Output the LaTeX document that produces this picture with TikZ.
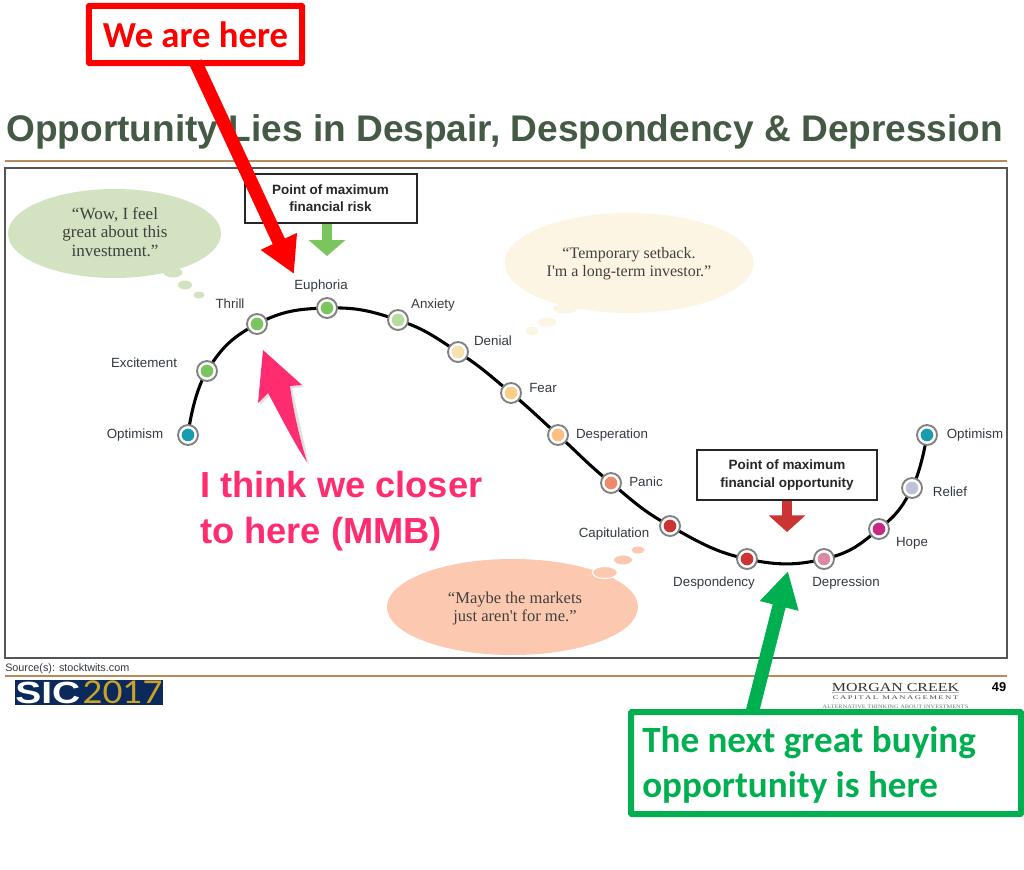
\documentclass[tikz,border=0pt]{standalone}
\usepackage{fontspec}
\setmainfont{Liberation Sans}
\newfontfamily\seriffnt{Liberation Serif}
\newfontfamily\calfnt{Carlito}
\newfontfamily\latofnt{Lato}
\usetikzlibrary{arrows.meta,backgrounds}
\definecolor{titlegreen}{HTML}{445A45}
\definecolor{rulebrown}{HTML}{B98A5A}
\definecolor{framegray}{HTML}{555555}
\definecolor{labelgray}{HTML}{333A40}
\definecolor{calloutgreen}{HTML}{00B050}
\definecolor{callpink}{HTML}{FF2D6F}
\definecolor{bubgreen}{HTML}{D3E3C1}
\definecolor{bubcream}{HTML}{FDF5E3}
\definecolor{bubpeach}{HTML}{FCC9B0}
\definecolor{arrgreen}{HTML}{7AC55E}
\definecolor{arrred}{HTML}{CC3333}
\definecolor{navylogo}{HTML}{0B2A5B}
\definecolor{goldlogo}{HTML}{C9A227}
\definecolor{dotteal}{HTML}{1A9CB0}
\definecolor{dotpale}{HTML}{B7DCA0}
\definecolor{dotcream}{HTML}{F7E2AE}
\definecolor{dotsand}{HTML}{F9CE85}
\definecolor{dotapricot}{HTML}{F9C081}
\definecolor{dotsalmon}{HTML}{F0886C}
\definecolor{dotrose}{HTML}{DC8AA3}
\definecolor{dotmagenta}{HTML}{C72A83}
\definecolor{dotslate}{HTML}{BCC3D6}
\tikzset{
  x=0.75pt,y=-0.75pt,
  ring/.style={circle,draw=black!50,line width=1.4pt,fill=white,minimum size=15pt,inner sep=0pt},
  core/.style={circle,minimum size=9.5pt,inner sep=0pt},
  lab/.style={font=\fontsize{10}{11}\selectfont,text=labelgray,inner sep=0pt},
  quotetxt/.style={font=\seriffnt\fontsize{12}{13.6}\selectfont,text=black!75,align=center,inner sep=0pt},
  boxtxt/.style={draw=black!85,line width=1.5pt,fill=white,align=center,font=\bfseries\fontsize{10.1}{13}\selectfont,text=black!85,inner sep=0pt},
  callbox/.style={line width=4.5pt,fill=white,inner sep=0pt,rounded corners=0.6pt}
}
\newcommand{\stepdot}[3]{\node[ring] (#1) at (#2) {}; \node[core,fill=#3] (#1c) at (#1) {};}
\begin{document}
\begin{tikzpicture}
\useasboundingbox (0,0) rectangle (1024,870);
\begin{scope}[on background layer]
  \fill[white] (0,0) rectangle (1024,870);
\end{scope}
% title & frame
\node[anchor=base west,inner sep=0pt,font=\bfseries\fontsize{27.8}{30}\selectfont,text=titlegreen] (title) at (6,142) {Opportunity Lies in Despair, Despondency \& Depression};
\coordinate (r1a) at (5,161); \coordinate (r1b) at (1007,161);
\draw[rulebrown,line width=1.6pt] (r1a) -- (r1b);
\draw[framegray,line width=1.2pt] (5,168) rectangle (1007,658);
\coordinate (r2a) at (5,676); \coordinate (r2b) at (1007,676);
\draw[rulebrown,line width=1.6pt] (r2a) -- (r2b);
% thought bubbles
\fill[bubgreen] (114.5,233.5) ellipse [x radius=106.5,y radius=44.5];
\fill[bubgreen] (173,272.5) ellipse [x radius=9.5,y radius=5];
\fill[bubgreen] (185,285) ellipse [x radius=7,y radius=4.5];
\fill[bubgreen] (199,295) ellipse [x radius=5.5,y radius=3.5];
\node[quotetxt,font=\seriffnt\fontsize{12.8}{13.6}\selectfont] (q1) at (115,232) {“Wow, I feel\\great about this\\investment.”};
\fill[bubcream] (629,263) ellipse [x radius=124.5,y radius=50];
\fill[bubcream] (565,308.5) ellipse [x radius=12,y radius=5];
\fill[bubcream] (547,322) ellipse [x radius=9,y radius=4.5];
\fill[bubcream] (532,331) ellipse [x radius=6.5,y radius=4];
\node[quotetxt] (q2) at (629,263.5) {“Temporary setback.\\I'm a long-term investor.”};
\fill[bubpeach] (512.5,607) ellipse [x radius=125.5,y radius=48];
\fill[bubpeach,draw=white,line width=0.8pt] (605,572.5) ellipse [x radius=12.5,y radius=6];
\fill[bubpeach] (623,560) ellipse [x radius=9,y radius=4.5];
\fill[bubpeach] (638,550) ellipse [x radius=6.5,y radius=3.5];
\node[quotetxt,font=\seriffnt\fontsize{12.4}{13.6}\selectfont] (q3) at (515,608.5) {“Maybe the markets\\just aren't for me.”};
% boxes and their arrows
\node[boxtxt,minimum width=129pt,minimum height=37pt] (risk) at (330.5,198.5) {Point of maximum\\financial risk};
\coordinate (risktip) at (327,256);
\draw[arrgreen,-{Triangle[length=12pt,width=27pt]},line width=8pt] (risk.south -| risktip) -- (risktip);
\node[boxtxt,minimum width=135pt,minimum height=38pt] (opp) at (787,475) {Point of maximum\\financial opportunity};
\coordinate (opptip) at (787,532);
\draw[arrred,-{Triangle[length=12.5pt,width=27pt]},line width=8pt] (opp.south) -- (opptip);
% the curve
\stepdot{a}{188,435}{dotteal}
\stepdot{b}{207,371}{arrgreen}
\stepdot{c}{257,324}{arrgreen}
\stepdot{d}{327,308}{arrgreen}
\stepdot{e}{398,320}{dotpale}
\stepdot{f}{458,352}{dotcream}
\stepdot{g}{511,393}{dotsand}
\stepdot{h}{558,435}{dotapricot}
\stepdot{i}{611,483}{dotsalmon}
\stepdot{j}{670,526}{arrred}
\stepdot{k}{747,559}{arrred}
\stepdot{l}{824,559}{dotrose}
\stepdot{m}{879,529}{dotmagenta}
\stepdot{n}{912,488}{dotslate}
\stepdot{o}{927,435}{dotteal}
\begin{scope}[on background layer]
  \draw[black,line width=2.3pt] plot[smooth,tension=0.75] coordinates {(a) (b) (c) (d) (e) (f) (g) (h) (i) (j) (k) (l) (m) (n) (o)};
\end{scope}
% stage labels
\node[lab] (la) at (135,435) {Optimism};
\node[lab] (lb) at (144,363) {Excitement};
\node[lab] (lc) at (230,304) {Thrill};
\node[lab] (ld) at (321,286) {Euphoria};
\node[lab] (le) at (433,305) {Anxiety};
\node[lab] (lf) at (493,341) {Denial};
\node[lab] (lg) at (543,388) {Fear};
\node[lab] (lh) at (612,435) {Desperation};
\node[lab] (li) at (646,482) {Panic};
\node[lab] (lj) at (614,534) {Capitulation};
\node[lab] (lk) at (714,583) {Despondency};
\node[lab] (ll) at (846,583) {Depression};
\node[lab] (lm) at (912,543) {Hope};
\node[lab] (ln) at (950,491.5) {Relief};
\node[lab] (lo) at (975,435) {Optimism};
% footer
\node[anchor=base west,inner sep=0pt,font=\fontsize{8.1}{10}\selectfont,text=labelgray] (src) at (5,671) {Source(s): stocktwits.com};
\fill[navylogo] (15,680) rectangle (163,705);
\node[anchor=base west,inner sep=0pt,xscale=1.27,font=\bfseries\fontsize{23}{24}\selectfont,text=white] (sic) at (15,703) {SIC};
\node[anchor=base east,inner sep=0pt,xscale=1.1,font=\latofnt\fontsize{23.5}{24}\selectfont,text=goldlogo] (yr) at (163,703) {2017};
\node[inner sep=0pt,xscale=1.3,font=\seriffnt\fontsize{9.2}{10}\selectfont,text=black!80] (mc) at (895.5,687) {MORGAN CREEK};
\coordinate (mca) at (832,692.5); \coordinate (mcb) at (959,692.5);
\draw[gray!60,line width=0.6pt] (mca) -- (mcb);
\node[inner sep=0pt,xscale=1.55,font=\seriffnt\fontsize{4.2}{5}\selectfont,text=black!70] (mc2) at (895.5,697.5) {C\,A\,P\,I\,T\,A\,L\ \ M\,A\,N\,A\,G\,E\,M\,E\,N\,T};
\node[inner sep=0pt,xscale=1.23,font=\seriffnt\fontsize{3.9}{5}\selectfont,text=black!55] (mc3) at (895.5,707) {ALTERNATIVE THINKING ABOUT INVESTMENTS};
\node[inner sep=0pt,font=\bfseries\fontsize{9.6}{11}\selectfont,text=black] (pg) at (999,687) {49};
% red call-out
\coordinate (wetip) at (294,274);
\node[callbox,draw=red,minimum width=160pt,minimum height=43pt,font=\calfnt\bfseries\fontsize{27.5}{30}\selectfont,text=red] (we) at (195.5,34.5) {We are here};
\draw[red,-{Triangle[length=27pt,width=28pt]},line width=10pt] ([yshift=3pt]we.south) -- (wetip);
% green call-out
\coordinate (gstart) at (752,713);
\coordinate (gtip) at (788,571);
\draw[calloutgreen,-{Triangle[length=27pt,width=28pt]},line width=10pt] (gstart) -- (gtip);
\node[callbox,draw=calloutgreen,minimum width=292.5pt,minimum height=76.5pt] (gb) at (826,763) {};
\node[anchor=base west,inner sep=0pt,font=\calfnt\bfseries\fontsize{27.8}{33.5}\selectfont,text=calloutgreen,align=left] (gt) at (642,797) {The next great buying\\opportunity is here};
% pink note
\fill[black!12] (264,352) -- (304,387) -- (292,388) -- (309,465) -- (270,395) -- (260,405) -- cycle;
\fill[callpink] (263,350) -- (302,385) -- (290,386) .. controls (293,410) and (300,440) .. (307,462) .. controls (295,445) and (280,415) .. (268,393) -- (258,403) -- cycle;
\node[anchor=base west,inner sep=0pt,font=\bfseries\fontsize{27.2}{34.5}\selectfont,text=callpink,align=left] (pk) at (200,543) {I think we closer\\to here (MMB)};
\end{tikzpicture}
\end{document}
